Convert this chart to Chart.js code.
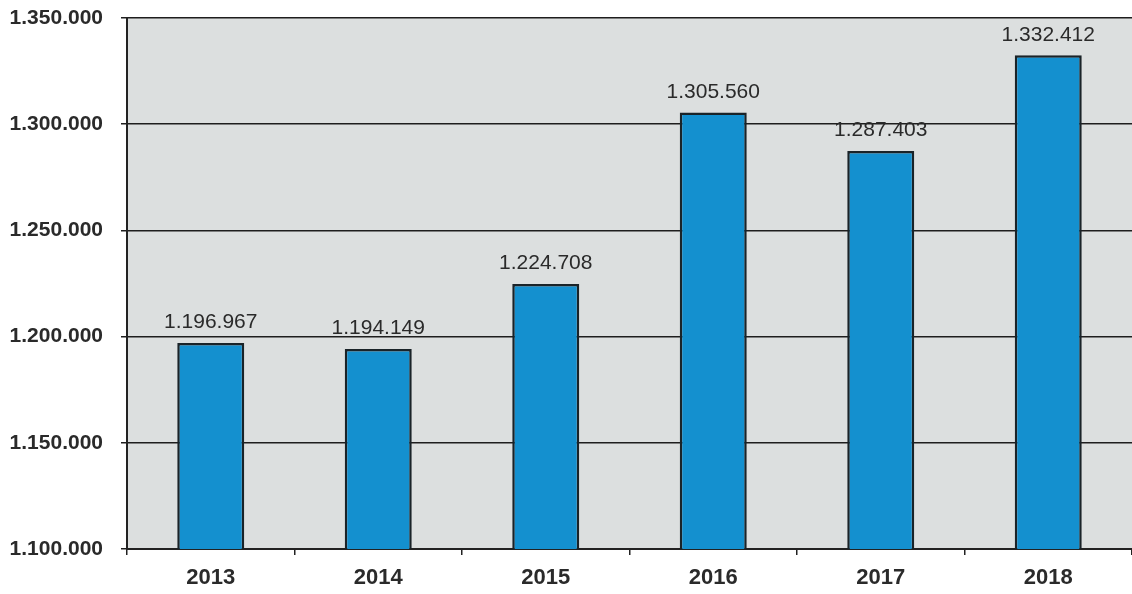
<!DOCTYPE html>
<html>
<head>
<meta charset="utf-8">
<script src="https://cdn.jsdelivr.net/npm/chart.js@4/dist/chart.umd.min.js"></script>
<style>
  html, body { margin: 0; padding: 0; background: #fff; }
  #wrap { width: 1132px; height: 594px; position: relative; }
</style>
</head>
<body>
<div id="wrap"><canvas id="chart"></canvas></div>
<script>
const years = ['2013', '2014', '2015', '2016', '2017', '2018'];
const values = [1196967, 1194149, 1224708, 1305560, 1287403, 1332412];
const yMin = 1100000;
const yMax = 1350000;
const yStep = 50000;

const fontFamily = 'Arial, "Liberation Sans", sans-serif';

function fmt(n) {
  return String(n).replace(/\B(?=(\d{3})+(?!\d))/g, '.');
}

// light gray plot background
const plotBg = {
  id: 'plotBg',
  beforeDraw(chart) {
    const { ctx, chartArea: a } = chart;
    ctx.save();
    ctx.fillStyle = '#dcdfdf';
    ctx.fillRect(a.left, a.top, a.right - a.left, a.bottom - a.top);
    ctx.restore();
  },
};

// value labels above each bar
const valueLabels = {
  id: 'valueLabels',
  afterDatasetsDraw(chart) {
    const { ctx } = chart;
    const meta = chart.getDatasetMeta(0);
    ctx.save();
    ctx.font = '21px ' + fontFamily;
    ctx.fillStyle = '#2a2a2a';
    ctx.textAlign = 'center';
    ctx.textBaseline = 'bottom';
    meta.data.forEach((bar, i) => {
      ctx.fillText(fmt(values[i]), bar.x, bar.y - 10);
    });
    ctx.restore();
  },
};

new Chart(document.getElementById('chart'), {
  type: 'bar',
  data: {
    labels: years,
    datasets: [{
      data: values,
      backgroundColor: '#1490cf',
      borderColor: '#1a2328',
      borderWidth: 2.5,
      barPercentage: 0.4,
      categoryPercentage: 1,
    }],
  },
  options: {
    responsive: true,
    maintainAspectRatio: false,
    animation: false,
    layout: { padding: { top: 18, right: 0, bottom: 0, left: 0 } },
    plugins: { legend: { display: false }, tooltip: { enabled: false } },
    scales: {
      x: {
        offset: true,
        grid: { offset: true, drawOnChartArea: false, color: '#222', tickLength: 6, lineWidth: 1.5 },
        border: { color: '#222', width: 2 },
        ticks: { color: '#2a2a2a', font: { family: fontFamily, size: 22, weight: 'bold' }, padding: 10 },
        afterFit(scale) { scale.height = 45; },
      },
      y: {
        min: yMin,
        max: yMax,
        grid: { color: '#1e1e1e', lineWidth: 1.5, tickLength: 6 },
        border: { color: '#222', width: 2 },
        ticks: {
          stepSize: yStep,
          color: '#2a2a2a',
          font: { family: fontFamily, size: 21, weight: 'bold' },
          padding: 18,
          callback: (v) => fmt(v),
        },
        afterFit(scale) {
          scale.width = 127;
          scale.paddingTop = 0;
          scale.paddingBottom = 0;
        },
      },
    },
  },
  plugins: [plotBg, valueLabels],
});
</script>
</body>
</html>
